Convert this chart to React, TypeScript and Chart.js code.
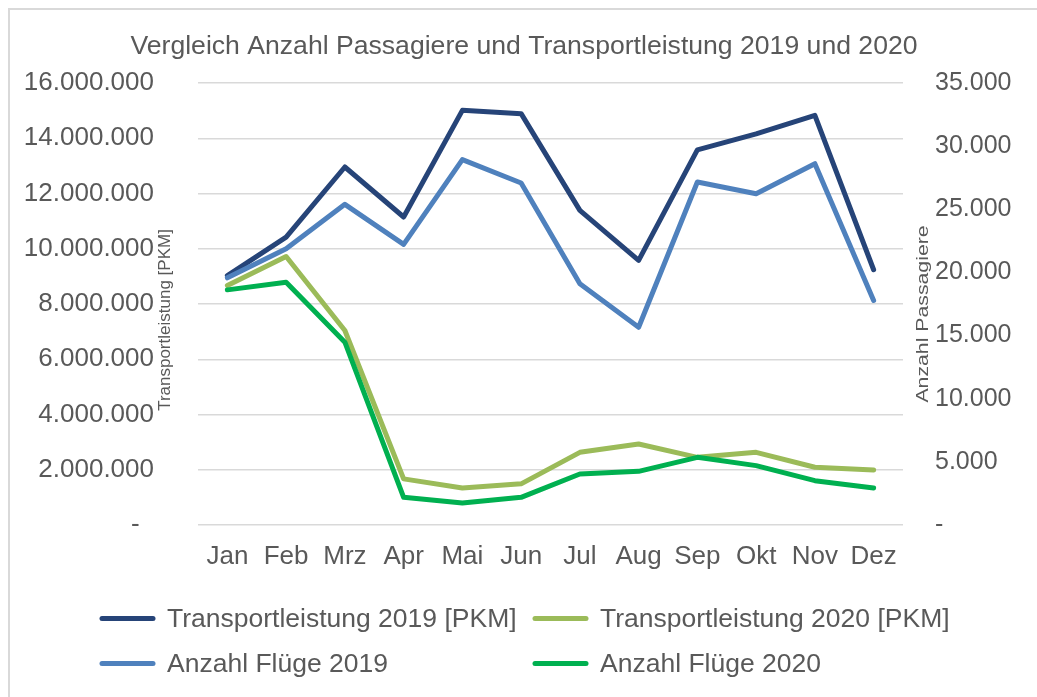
import React, { useEffect, useRef } from 'react';
import { Chart, registerables } from 'chart.js';

Chart.register(...registerables);

const FONT = "'Liberation Sans', Arial, Helvetica, sans-serif";
const TEXT = '#595959';

const categories = ['Jan', 'Feb', 'Mrz', 'Apr', 'Mai', 'Jun', 'Jul', 'Aug', 'Sep', 'Okt', 'Nov', 'Dez'];

// Transportleistung [PKM] (left axis)
const transport2019 = [9030000, 10420000, 12960000, 11150000, 15010000, 14890000, 11390000, 9580000, 13580000, 14160000, 14830000, 9240000];
const transport2020 = [8670000, 9720000, 7040000, 1670000, 1340000, 1490000, 2630000, 2930000, 2450000, 2630000, 2090000, 1990000];

// Anzahl Flüge (right axis)
const fluege2019 = [19570, 21870, 25390, 22220, 28930, 27080, 19100, 15660, 27160, 26230, 28610, 17780];
const fluege2020 = [18620, 19230, 14480, 2190, 1740, 2190, 4040, 4250, 5360, 4700, 3510, 2930];

const seriesLabels = [
  'Transportleistung 2019 [PKM]',
  'Transportleistung 2020 [PKM]',
  'Anzahl Flüge 2019',
  'Anzahl Flüge 2020',
];
const seriesColors = ['#264478', '#9BBB59', '#4F81BD', '#00B050'];

const chartTitle = 'Vergleich Anzahl Passagiere und Transportleistung 2019 und 2020';
const leftAxisTitle = 'Transportleistung [PKM]';
const rightAxisTitle = 'Anzahl Passagiere';

const leftMax = 16000000;
const leftStep = 2000000;
const rightMax = 35000;
const rightStep = 5000;

const formatDe = (v: number) => String(Math.round(v)).replace(/\B(?=(\d{3})+(?!\d))/g, '.');

export default function App() {
  const ref = useRef<HTMLCanvasElement>(null);

  useEffect(() => {
    const decor = {
      id: 'decor',
      beforeDraw(chart: any) {
        const ctx = chart.ctx;
        ctx.save();
        ctx.fillStyle = '#ffffff';
        ctx.fillRect(0, 0, chart.width, chart.height);
        ctx.strokeStyle = '#d9d9d9';
        ctx.lineWidth = 2;
        ctx.strokeRect(9, 9, 1200, 1000);
        ctx.restore();
      },
      afterDraw(chart: any) {
        const ctx = chart.ctx;
        const area = chart.chartArea;
        ctx.save();
        // title
        ctx.fillStyle = TEXT;
        ctx.font = `26.6px ${FONT}`;
        ctx.textAlign = 'center';
        ctx.textBaseline = 'alphabetic';
        ctx.fillText(chartTitle, 524, 54);

        // left axis title
        ctx.save();
        ctx.translate(area.left - 28, (area.top + area.bottom) / 2 + 16);
        ctx.rotate(-Math.PI / 2);
        ctx.font = `17px ${FONT}`;
        ctx.textAlign = 'center';
        ctx.fillText(leftAxisTitle, 0, 0);
        ctx.restore();

        // right axis title
        ctx.save();
        ctx.translate(area.right + 25, (area.top + area.bottom) / 2 + 10);
        ctx.rotate(-Math.PI / 2);
        ctx.scale(1.25, 1);
        ctx.font = `17px ${FONT}`;
        ctx.textAlign = 'center';
        ctx.fillText(rightAxisTitle, 0, 0);
        ctx.restore();

        // legend (2 columns)
        const cols = [100, 533];
        const rows = [627, 672];
        chart.data.datasets.forEach((ds: any, i: number) => {
          const x = cols[i % 2];
          const y = rows[Math.floor(i / 2)];
          ctx.strokeStyle = ds.borderColor;
          ctx.lineWidth = 5;
          ctx.lineCap = 'round';
          ctx.beginPath();
          ctx.moveTo(x + 2, y - 8.5);
          ctx.lineTo(x + 53, y - 8.5);
          ctx.stroke();
          ctx.fillStyle = TEXT;
          ctx.font = `26.5px ${FONT}`;
          ctx.textAlign = 'left';
          ctx.textBaseline = 'alphabetic';
          ctx.fillText(ds.label, x + 67, y);
        });
        ctx.restore();
      },
    };

    const mk = (i: number, data: number[], axis: string, order: number) => ({
      label: seriesLabels[i],
      data,
      yAxisID: axis,
      borderColor: seriesColors[i],
      backgroundColor: seriesColors[i],
      borderWidth: 5,
      pointRadius: 0,
      pointHoverRadius: 0,
      tension: 0,
      fill: false,
      borderJoinStyle: 'round' as const,
      borderCapStyle: 'round' as const,
      order,
    });

    const chart = new Chart(ref.current as HTMLCanvasElement, {
      type: 'line',
      data: {
        labels: categories,
        datasets: [
          mk(0, transport2019, 'yL', 4),
          mk(1, transport2020, 'yL', 3),
          mk(2, fluege2019, 'yR', 2),
          mk(3, fluege2020, 'yR', 1),
        ],
      },
      options: {
        responsive: false,
        animation: false,
        events: [],
        layout: { padding: { top: 83, bottom: 112, left: 0, right: 0 } },
        plugins: {
          legend: { display: false },
          title: { display: false },
          tooltip: { enabled: false },
        },
        scales: {
          x: {
            type: 'category',
            offset: true,
            grid: { display: false, drawTicks: false, offset: true },
            border: { display: false },
            ticks: {
              font: { size: 26, family: FONT },
              color: TEXT,
              padding: 16,
              autoSkip: false,
              maxRotation: 0,
              minRotation: 0,
            },
            afterFit(s: any) {
              s.height = 60;
            },
          },
          yL: {
            type: 'linear',
            position: 'left',
            min: 0,
            max: leftMax,
            grid: { color: '#d9d9d9', lineWidth: 1.5, drawTicks: false },
            border: { display: false },
            ticks: {
              stepSize: leftStep,
              font: { size: 26, family: FONT },
              color: TEXT,
              padding: 44,
              callback: (v: any) => (Number(v) === 0 ? '-  ' : formatDe(Number(v))),
            },
            afterFit(s: any) {
              s.width = 198;
            },
          },
          yR: {
            type: 'linear',
            position: 'right',
            min: 0,
            max: rightMax,
            grid: { drawOnChartArea: false, drawTicks: false },
            border: { display: false },
            ticks: {
              stepSize: rightStep,
              font: { size: 25, family: FONT },
              color: TEXT,
              padding: 32,
              callback: (v: any) => (Number(v) === 0 ? '-' : formatDe(Number(v))),
            },
            afterFit(s: any) {
              s.width = 134;
            },
          },
        },
      },
      plugins: [decor],
    });
    return () => chart.destroy();
  }, []);

  return (
    <canvas
      ref={ref}
      width={1037}
      height={697}
      style={{ position: 'fixed', left: 0, top: 0, width: 1037, height: 697, display: 'block' }}
    />
  );
}
